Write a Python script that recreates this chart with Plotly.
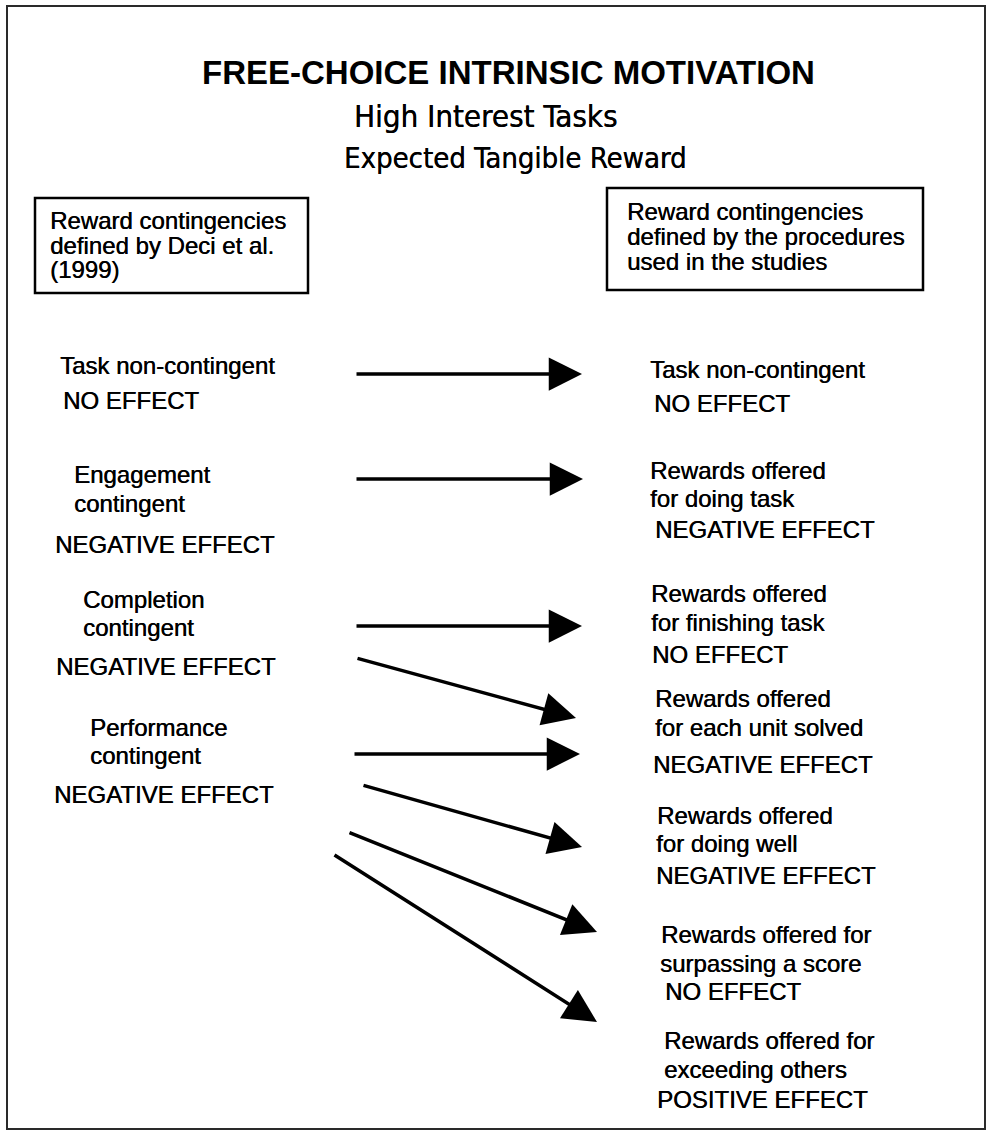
import plotly.graph_objects as go

# ---------------- content (text data) ----------------
title_lines = ["FREE-CHOICE INTRINSIC MOTIVATION", "High Interest Tasks", "Expected Tangible Reward"]

left_header = ["Reward contingencies", "defined by Deci et al.", "(1999)"]
right_header = ["Reward contingencies", "defined by the procedures", "used in the studies"]

left_items = [
    ["Task non-contingent", "NO EFFECT"],
    ["Engagement", "contingent", "NEGATIVE EFFECT"],
    ["Completion", "contingent", "NEGATIVE EFFECT"],
    ["Performance", "contingent", "NEGATIVE EFFECT"],
]
right_items = [
    ["Task non-contingent", "NO EFFECT"],
    ["Rewards offered", "for doing task", "NEGATIVE EFFECT"],
    ["Rewards offered", "for finishing task", "NO EFFECT"],
    ["Rewards offered", "for each unit solved", "NEGATIVE EFFECT"],
    ["Rewards offered", "for doing well", "NEGATIVE EFFECT"],
    ["Rewards offered for", "surpassing a score", "NO EFFECT"],
    ["Rewards offered for", "exceeding others", "POSITIVE EFFECT"],
]
# which left contingency maps onto which study procedure
links = [(0, 0), (1, 1), (2, 2), (2, 3), (3, 3), (3, 4), (3, 5), (3, 6)]

# ---------------- layout (positions in page pixels) ----------------
W, H = 989, 1135
frame = (7, 6, 985, 1129)
left_box = (35, 198, 308, 293)
right_box = (607, 188, 923, 290)
title_pos = [(508, 72), (485, 116), (515, 158)]
title_size = [33, 31, 29]
left_header_pos = [(48, 220), (48, 245), (48, 269)]
right_header_pos = [(625, 211), (625, 236), (625, 261)]
left_pos = [
    [(58, 365), (61, 400)],
    [(72, 474), (72, 503), (53, 544)],
    [(81, 599), (81, 627), (54, 666)],
    [(88, 727), (88, 755), (52, 794)],
]
right_pos = [
    [(648, 369), (652, 403)],
    [(648, 470), (648, 498), (653, 529)],
    [(649, 593), (649, 622), (650, 654)],
    [(653, 698), (653, 727), (651, 764)],
    [(655, 815), (654, 843), (654, 875)],
    [(659, 934), (658, 963), (663, 991)],
    [(662, 1040), (662, 1069), (655, 1099)],
]
arrow_start = [(355, 374), (355, 479), (355, 626), (356, 658), (353, 754), (362, 785), (348, 832), (333, 854)]
arrow_tip = [(582, 374), (583, 479), (582, 626), (576, 718), (580, 754), (582, 847), (597, 932), (597, 1022)]

BODY_FONT = dict(family="Liberation Sans, Arial, sans-serif", size=24, color="black",
                 shadow="0.4px 0px 0px black")
SUB_FONT = "DejaVu Sans Condensed, DejaVu Sans, sans-serif"

fig = go.Figure()
fig.add_trace(go.Scatter(x=[0, W], y=[0, H], mode="markers", marker=dict(opacity=0),
                         hoverinfo="skip", showlegend=False))

annotations = []
shapes = []


def txt(s, x, y, font, anchor="left"):
    annotations.append(dict(x=x, y=y, xref="x", yref="y", text=s, showarrow=False,
                            xanchor=anchor, yanchor="middle", font=font))


# titles
txt("<b>" + title_lines[0] + "</b>", *title_pos[0],
    dict(family="Liberation Sans, Arial, sans-serif", size=title_size[0], color="black"), "center")
for s, (x, y), sz in zip(title_lines[1:], title_pos[1:], title_size[1:]):
    txt(s, x, y, dict(family=SUB_FONT, size=sz, color="black", shadow="0.3px 0px 0px black"), "center")

# headers with boxes
for s, (x, y) in zip(left_header, left_header_pos):
    txt(s, x, y, BODY_FONT)
for s, (x, y) in zip(right_header, right_header_pos):
    txt(s, x, y, BODY_FONT)
for b in (left_box, right_box):
    shapes.append(dict(type="rect", xref="x", yref="y", x0=b[0], y0=b[1], x1=b[2], y1=b[3],
                       line=dict(color="black", width=2.5), fillcolor="rgba(0,0,0,0)"))

# outer frame
shapes.append(dict(type="rect", xref="x", yref="y", x0=frame[0], y0=frame[1], x1=frame[2], y1=frame[3],
                   line=dict(color="#2a2a2a", width=2), fillcolor="rgba(0,0,0,0)"))

# items
for item, pos in zip(left_items, left_pos):
    for s, (x, y) in zip(item, pos):
        txt(s, x, y, BODY_FONT)
for item, pos in zip(right_items, right_pos):
    for s, (x, y) in zip(item, pos):
        txt(s, x, y, BODY_FONT)

# arrows
for k, (li, ri) in enumerate(links):
    (sx, sy), (tx, ty) = arrow_start[k], arrow_tip[k]
    annotations.append(dict(x=tx, y=ty, ax=sx, ay=sy, xref="x", yref="y", axref="x", ayref="y",
                            text="", showarrow=True, arrowhead=2, arrowsize=1.9, arrowwidth=3.5,
                            arrowcolor="black"))

fig.update_layout(
    width=W, height=H, margin=dict(l=0, r=0, t=0, b=0),
    paper_bgcolor="white", plot_bgcolor="white",
    xaxis=dict(range=[0, W], visible=False, fixedrange=True),
    yaxis=dict(range=[H, 0], visible=False, fixedrange=True),
    annotations=annotations, shapes=shapes, showlegend=False,
)
fig.write_html("out.html", config={"displayModeBar": False},
               post_script="document.body.style.margin='0px';document.body.style.overflow='hidden';")
